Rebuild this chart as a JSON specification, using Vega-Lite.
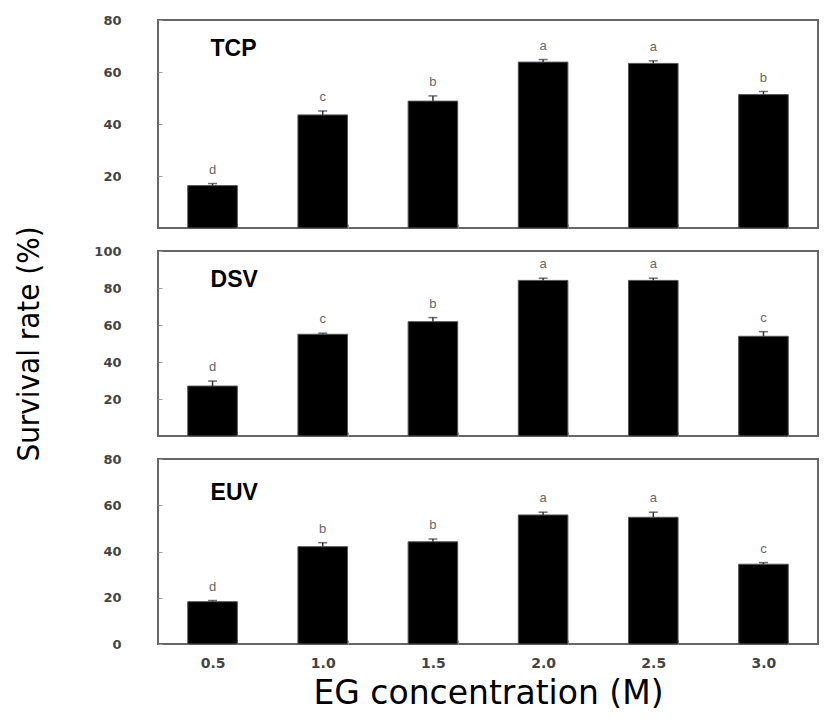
{
  "$schema": "https://vega.github.io/schema/vega-lite/v6.json",
  "padding": {"left": 12, "top": 13, "right": 8, "bottom": 5},
  "background": "white",
  "spacing": 23,
  "bounds": "flush",
  "config": {
    "view": {"stroke": "#666", "strokeWidth": 2},
    "axis": {
      "labelFont": "DejaVu Sans",
      "labelFontWeight": "bold",
      "labelFontSize": 13,
      "labelColor": "#444",
      "domain": false,
      "grid": false,
      "tickColor": "#999",
      "tickSize": -4
    }
  },
  "datasets": {
    "bars": [
      {"panel": "TCP", "conc": "0.5", "value": 16.3, "upper": 17.1, "letter": "d"},
      {"panel": "TCP", "conc": "1.0", "value": 43.5, "upper": 45.0, "letter": "c"},
      {"panel": "TCP", "conc": "1.5", "value": 48.8, "upper": 50.8, "letter": "b"},
      {"panel": "TCP", "conc": "2.0", "value": 63.8, "upper": 64.8, "letter": "a"},
      {"panel": "TCP", "conc": "2.5", "value": 63.3, "upper": 64.3, "letter": "a"},
      {"panel": "TCP", "conc": "3.0", "value": 51.3, "upper": 52.5, "letter": "b"},
      {"panel": "DSV", "conc": "0.5", "value": 27.0, "upper": 29.7, "letter": "d"},
      {"panel": "DSV", "conc": "1.0", "value": 55.0, "upper": 55.6, "letter": "c"},
      {"panel": "DSV", "conc": "1.5", "value": 61.8, "upper": 64.0, "letter": "b"},
      {"panel": "DSV", "conc": "2.0", "value": 84.1, "upper": 85.3, "letter": "a"},
      {"panel": "DSV", "conc": "2.5", "value": 84.1, "upper": 85.3, "letter": "a"},
      {"panel": "DSV", "conc": "3.0", "value": 53.9, "upper": 56.4, "letter": "c"},
      {"panel": "EUV", "conc": "0.5", "value": 18.3, "upper": 18.8, "letter": "d"},
      {"panel": "EUV", "conc": "1.0", "value": 42.1, "upper": 43.8, "letter": "b"},
      {"panel": "EUV", "conc": "1.5", "value": 44.2, "upper": 45.4, "letter": "b"},
      {"panel": "EUV", "conc": "2.0", "value": 55.8, "upper": 57.0, "letter": "a"},
      {"panel": "EUV", "conc": "2.5", "value": 54.8, "upper": 57.0, "letter": "a"},
      {"panel": "EUV", "conc": "3.0", "value": 34.5, "upper": 35.2, "letter": "c"}
    ],
    "labels": [
      {"panel": "TCP", "conc": "0.5", "ly": 69},
      {"panel": "DSV", "conc": "0.5", "ly": 84.5},
      {"panel": "EUV", "conc": "0.5", "ly": 65.4}
    ]
  },
  "vconcat": [
    {
      "width": 660,
      "height": 208,
      "encoding": {
        "x": {
          "field": "conc", "type": "ordinal",
          "sort": ["0.5", "1.0", "1.5", "2.0", "2.5", "3.0"],
          "scale": {"paddingInner": 0.55, "paddingOuter": 0.27},
          "axis": {"labels": false, "title": null, "tickBand": "extent"}
        }
      },
      "layer": [
        {
          "data": {"name": "bars"},
          "transform": [{"filter": "datum.panel === 'TCP'"}],
          "layer": [
            {
              "mark": {"type": "bar", "fill": "black", "stroke": "#555", "strokeWidth": 1},
              "encoding": {
                "y": {
                  "field": "value", "type": "quantitative",
                  "scale": {"domain": [0, 80], "nice": false},
                  "axis": {"values": [20, 40, 60, 80], "title": null, "labelPadding": 41}
                }
              }
            },
            {
              "mark": {"type": "rule", "color": "#333", "strokeWidth": 1.5},
              "encoding": {"y": {"field": "value", "type": "quantitative"}, "y2": {"field": "upper"}}
            },
            {
              "mark": {"type": "tick", "color": "#333", "thickness": 1.5, "size": 9},
              "encoding": {"y": {"field": "upper", "type": "quantitative"}}
            },
            {
              "mark": {"type": "text", "dy": -10, "baseline": "alphabetic", "fontSize": 13, "color": "#666", "font": "Liberation Sans"},
              "encoding": {"y": {"field": "upper", "type": "quantitative"}, "text": {"field": "letter"}}
            }
          ]
        },
        {
          "data": {"name": "labels"},
          "transform": [{"filter": "datum.panel === 'TCP'"}],
          "mark": {"type": "text", "align": "left", "baseline": "middle", "dx": -2, "fontSize": 23, "fontWeight": "bold", "font": "Liberation Sans", "color": "black"},
          "encoding": {"y": {"field": "ly", "type": "quantitative"}, "text": {"field": "panel"}}
        }
      ]
    },
    {
      "width": 660,
      "height": 185,
      "encoding": {
        "x": {
          "field": "conc", "type": "ordinal",
          "sort": ["0.5", "1.0", "1.5", "2.0", "2.5", "3.0"],
          "scale": {"paddingInner": 0.55, "paddingOuter": 0.27},
          "axis": {"labels": false, "title": null, "tickBand": "extent"}
        }
      },
      "layer": [
        {
          "data": {"name": "bars"},
          "transform": [{"filter": "datum.panel === 'DSV'"}],
          "layer": [
            {
              "mark": {"type": "bar", "fill": "black", "stroke": "#555", "strokeWidth": 1},
              "encoding": {
                "y": {
                  "field": "value", "type": "quantitative",
                  "scale": {"domain": [0, 100], "nice": false},
                  "axis": {
                    "values": [20, 40, 60, 80, 100],
                    "title": "Survival rate (%)",
                    "labelPadding": 41,
                    "titleFont": "DejaVu Sans Condensed, Liberation Sans, sans-serif",
                    "titleFontSize": 31,
                    "titleFontWeight": "normal",
                    "titleColor": "black",
                    "titlePadding": 48
                  }
                }
              }
            },
            {
              "mark": {"type": "rule", "color": "#333", "strokeWidth": 1.5},
              "encoding": {"y": {"field": "value", "type": "quantitative"}, "y2": {"field": "upper"}}
            },
            {
              "mark": {"type": "tick", "color": "#333", "thickness": 1.5, "size": 9},
              "encoding": {"y": {"field": "upper", "type": "quantitative"}}
            },
            {
              "mark": {"type": "text", "dy": -10, "baseline": "alphabetic", "fontSize": 13, "color": "#666", "font": "Liberation Sans"},
              "encoding": {"y": {"field": "upper", "type": "quantitative"}, "text": {"field": "letter"}}
            }
          ]
        },
        {
          "data": {"name": "labels"},
          "transform": [{"filter": "datum.panel === 'DSV'"}],
          "mark": {"type": "text", "align": "left", "baseline": "middle", "dx": -2, "fontSize": 23, "fontWeight": "bold", "font": "Liberation Sans", "color": "black"},
          "encoding": {"y": {"field": "ly", "type": "quantitative"}, "text": {"field": "panel"}}
        }
      ]
    },
    {
      "width": 660,
      "height": 185,
      "encoding": {
        "x": {
          "field": "conc", "type": "ordinal",
          "sort": ["0.5", "1.0", "1.5", "2.0", "2.5", "3.0"],
          "scale": {"paddingInner": 0.55, "paddingOuter": 0.27},
          "axis": {
            "labelAngle": 0,
            "labelPadding": 16,
            "labelFontSize": 14,
            "tickBand": "extent",
            "title": "EG concentration (M)",
            "titleFont": "DejaVu Sans",
            "titleFontSize": 33,
            "titleFontWeight": "normal",
            "titleColor": "black",
            "titlePadding": 7
          }
        }
      },
      "layer": [
        {
          "data": {"name": "bars"},
          "transform": [{"filter": "datum.panel === 'EUV'"}],
          "layer": [
            {
              "mark": {"type": "bar", "fill": "black", "stroke": "#555", "strokeWidth": 1},
              "encoding": {
                "y": {
                  "field": "value", "type": "quantitative",
                  "scale": {"domain": [0, 80], "nice": false},
                  "axis": {"values": [0, 20, 40, 60, 80], "title": null, "labelPadding": 41}
                }
              }
            },
            {
              "mark": {"type": "rule", "color": "#333", "strokeWidth": 1.5},
              "encoding": {"y": {"field": "value", "type": "quantitative"}, "y2": {"field": "upper"}}
            },
            {
              "mark": {"type": "tick", "color": "#333", "thickness": 1.5, "size": 9},
              "encoding": {"y": {"field": "upper", "type": "quantitative"}}
            },
            {
              "mark": {"type": "text", "dy": -10, "baseline": "alphabetic", "fontSize": 13, "color": "#666", "font": "Liberation Sans"},
              "encoding": {"y": {"field": "upper", "type": "quantitative"}, "text": {"field": "letter"}}
            }
          ]
        },
        {
          "data": {"name": "labels"},
          "transform": [{"filter": "datum.panel === 'EUV'"}],
          "mark": {"type": "text", "align": "left", "baseline": "middle", "dx": -2, "fontSize": 23, "fontWeight": "bold", "font": "Liberation Sans", "color": "black"},
          "encoding": {"y": {"field": "ly", "type": "quantitative"}, "text": {"field": "panel"}}
        }
      ]
    }
  ]
}
